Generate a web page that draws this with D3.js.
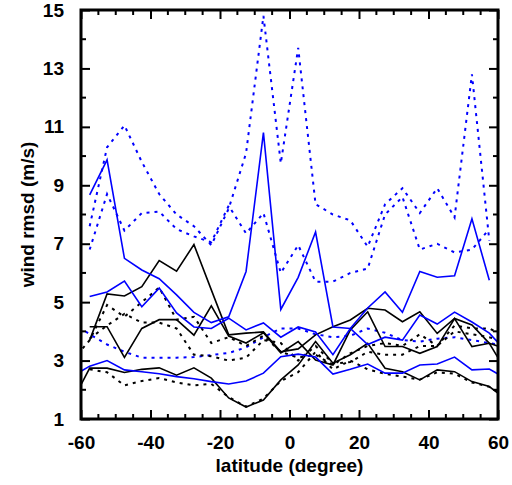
<!DOCTYPE html>
<html>
<head>
<meta charset="utf-8">
<script src="https://cdn.jsdelivr.net/npm/d3@7"></script>
<style>
  html, body { margin: 0; padding: 0; background: #fff; }
  svg { display: block; }
  text { font-family: "Liberation Sans", Arial, Helvetica, sans-serif; font-weight: bold; fill: #000; }
</style>
</head>
<body>
<script>
// Latitude bins (degree). The outer ±62.5 bins fall outside the frame and are clipped.
const latitudes = [-62.5, -57.5, -52.5, -47.5, -42.5, -37.5, -32.5, -27.5, -22.5, -17.5, -12.5, -7.5,
                   -2.5, 2.5, 7.5, 12.5, 17.5, 22.5, 27.5, 32.5, 37.5, 42.5, 47.5, 52.5, 57.5, 62.5];

// wind rmsd (m/s) per latitude bin; null where a profile has no value
const blueDot1 = [null, 7.6, 10.3, 11.05, 9.8, 8.7, 8.0, 7.6, 6.95, 8.2, 10.1, 14.8,
                  9.75, 13.7, 8.35, 8.0, 7.8, 6.9, 8.35, 8.9, 8.05, 8.9, 7.9, 12.8, 7.1, null];
const blueDot2 = [null, 6.8, 8.7, 7.45, 8.05, 8.1, 7.5, 7.25, 7.05, 8.3, 7.35, 8.05,
                  6.0, 6.95, 5.7, 5.7, 6.0, 6.15, 8.0, 8.6, 6.8, 7.0, 6.7, 6.8, 7.5, null];
const blueDot3 = [4.3, 3.9, 3.55, 3.3, 3.1, 3.1, 3.1, 3.12, 3.19, 3.26, 3.45, 3.8,
                  4.1, 4.1, 3.9, 3.8, 3.85, 4.1, 3.95, 3.7, 3.65, 3.75, 3.8, 3.7, 3.6, 3.5];
const blueLine1 = [null, 8.67, 9.87, 6.5, 6.1, 5.8, 5.25, 4.65, 4.3, 4.5, 6.05, 10.8,
                   4.75, 5.85, 7.4, 4.15, 4.1, 4.8, 5.35, 4.65, 6.05, 5.85, 5.9, 7.85, 5.75, null];
const blueLine2 = [null, 5.19, 5.35, 5.72, 4.84, 5.48, 4.63, 4.15, 4.1, 4.45, 4.05, 4.29,
                   3.8, 4.15, 3.98, 3.2, 4.1, 3.55, 3.8, 3.7, 4.56, 4.25, 4.66, 4.32, 3.94, 3.3];
const blueLine3 = [2.46, 2.81, 3.0, 2.68, 2.62, 2.55, 2.45, 2.38, 2.28, 2.2, 2.3, 2.57,
                   3.13, 3.22, 3.12, 2.54, 2.7, 2.88, 2.57, 2.57, 2.85, 2.88, 3.12, 2.68, 2.71, 2.37];
const blackLine1 = [null, 3.7, 5.28, 5.21, 5.53, 6.42, 6.06, 6.97, 5.42, 3.88, 3.94, 3.98,
                    3.3, 3.4, 3.88, 4.16, 4.39, 4.79, 4.73, 4.33, 4.67, 3.93, 4.44, 4.22, 3.59, 2.6];
const blackLine2 = [null, 4.16, 4.16, 3.11, 4.1, 4.4, 4.4, 3.87, 4.87, 3.84, 3.6, 3.95,
                    3.26, 3.65, 3.02, 2.85, 4.05, 4.67, 3.48, 3.48, 3.25, 3.48, 4.44, 3.48, 3.59, 3.4];
const blackLine3 = [1.6, 2.74, 2.74, 2.59, 2.7, 2.75, 2.5, 2.75, 2.4, 1.72, 1.41, 1.65,
                    2.34, 2.85, 3.65, 2.91, 3.2, 3.59, 2.74, 2.62, 2.34, 2.68, 2.62, 2.28, 2.11, 1.65];
const blackDot1 = [3.0, 3.7, 4.9, 4.5, 5.0, 5.5, 4.4, 4.5, 3.6, 3.8, 3.5, 3.85,
                   3.3, 3.1, 3.2, 2.85, 3.25, 3.5, 3.6, 3.5, 3.9, 3.5, 4.2, 4.1, 4.1, 3.8];
const blackDot2 = [null, 3.75, 4.2, 4.6, 4.3, 4.3, 4.1, 3.2, 3.15, 3.0, 3.1, 3.7,
                   3.6, 3.0, 3.5, 2.9, 2.95, 3.3, 3.2, 3.2, 3.5, 3.5, 4.0, 3.9, 3.8, 3.6];
const blackDot3 = [null, 2.7, 2.6, 2.15, 2.3, 2.4, 2.25, 2.15, 2.2, 1.75, 1.42, 1.7,
                   2.3, 2.6, 3.3, 2.7, 3.0, 2.7, 2.55, 2.45, 2.35, 2.6, 2.55, 2.25, 2.1, 1.75];

const xTickValues = [-60, -40, -20, 0, 20, 40, 60];
const yTickValues = [1, 3, 5, 7, 9, 11, 13, 15];

const W = 512, H = 485;
const frame = { left: 81, right: 498, top: 10, bottom: 419 };

const x = d3.scaleLinear().domain([-60, 60]).range([frame.left, frame.right]);
const y = d3.scaleLinear().domain([1, 15]).range([frame.bottom, frame.top]);

const svg = d3.select("body").append("svg").attr("width", W).attr("height", H);

svg.append("defs").append("clipPath").attr("id", "frame-clip")
  .append("rect")
  .attr("x", frame.left).attr("y", frame.top)
  .attr("width", frame.right - frame.left).attr("height", frame.bottom - frame.top);

const series = [
  { values: blueDot1, color: "#0000ff", dash: "3,5" },
  { values: blueDot2, color: "#0000ff", dash: "3,5" },
  { values: blueDot3, color: "#0000ff", dash: "3,5" },
  { values: blackDot1, color: "#000000", dash: "3,5" },
  { values: blackDot2, color: "#000000", dash: "3,5" },
  { values: blackDot3, color: "#000000", dash: "3,5" },
  { values: blackLine1, color: "#000000", dash: null },
  { values: blackLine2, color: "#000000", dash: null },
  { values: blackLine3, color: "#000000", dash: null },
  { values: blueLine1, color: "#0000ff", dash: null },
  { values: blueLine2, color: "#0000ff", dash: null },
  { values: blueLine3, color: "#0000ff", dash: null }
];

const line = d3.line()
  .defined(d => d.v !== null)
  .x(d => x(d.lat))
  .y(d => y(d.v));

const plot = svg.append("g").attr("clip-path", "url(#frame-clip)");
series.forEach(s => {
  const pts = latitudes.map((lat, i) => ({ lat, v: s.values[i] }));
  plot.append("path")
    .attr("d", line(pts))
    .attr("fill", "none")
    .attr("stroke", s.color)
    .attr("stroke-width", s.dash ? 2 : 1.6)
    .attr("stroke-dasharray", s.dash)
    .attr("stroke-linejoin", "miter");
});

// Axes: ticks point inward on all four sides; labels use a plain hyphen for negatives
const plain = d => String(d);
const bottomAxis = d3.axisBottom(x).tickValues(xTickValues).tickFormat(plain).tickSize(-9).tickPadding(17);
const topAxis = d3.axisTop(x).tickValues(xTickValues).tickFormat("").tickSize(-9);
const leftAxis = d3.axisLeft(y).tickValues(yTickValues).tickFormat(plain).tickSize(-9).tickPadding(17);
const rightAxis = d3.axisRight(y).tickValues(yTickValues).tickFormat("").tickSize(-9);

function styleAxis(g) {
  g.select(".domain").remove();
  g.selectAll(".tick line").attr("stroke", "#000").attr("stroke-width", 2);
  g.selectAll(".tick text").attr("font-size", 19).attr("font-family", "Liberation Sans, Arial, sans-serif").attr("font-weight", "bold");
}

svg.append("g").attr("transform", `translate(0,${frame.bottom})`).call(bottomAxis).call(styleAxis);
svg.append("g").attr("transform", `translate(0,${frame.top})`).call(topAxis).call(styleAxis);
svg.append("g").attr("transform", `translate(${frame.left},0)`).call(leftAxis).call(styleAxis);
svg.append("g").attr("transform", `translate(${frame.right},0)`).call(rightAxis).call(styleAxis);

// minor ticks every 5 degrees and every 1 m/s
const minorX = d3.range(-60, 60.1, 5).filter(v => !xTickValues.includes(v));
const minorY = d3.range(1, 15.1, 1).filter(v => !yTickValues.includes(v));
[frame.bottom, frame.top].forEach((yy, k) => {
  svg.append("g").selectAll("line").data(minorX).join("line")
    .attr("x1", d => x(d)).attr("x2", d => x(d))
    .attr("y1", yy).attr("y2", k === 0 ? yy - 5 : yy + 5)
    .attr("stroke", "#000").attr("stroke-width", 2);
});
[frame.left, frame.right].forEach((xx, k) => {
  svg.append("g").selectAll("line").data(minorY).join("line")
    .attr("y1", d => y(d)).attr("y2", d => y(d))
    .attr("x1", xx).attr("x2", k === 0 ? xx + 5 : xx - 5)
    .attr("stroke", "#000").attr("stroke-width", 2);
});

// frame
svg.append("rect")
  .attr("x", frame.left).attr("y", frame.top)
  .attr("width", frame.right - frame.left).attr("height", frame.bottom - frame.top)
  .attr("fill", "none").attr("stroke", "#000").attr("stroke-width", 3);

// axis titles
svg.append("text")
  .attr("x", (frame.left + frame.right) / 2).attr("y", 472)
  .attr("text-anchor", "middle").attr("font-size", 19)
  .text("latitude (degree)");

svg.append("text")
  .attr("transform", `translate(34,${(frame.top + frame.bottom) / 2}) rotate(-90)`)
  .attr("text-anchor", "middle").attr("font-size", 19)
  .text("wind rmsd (m/s)");
</script>
</body>
</html>
